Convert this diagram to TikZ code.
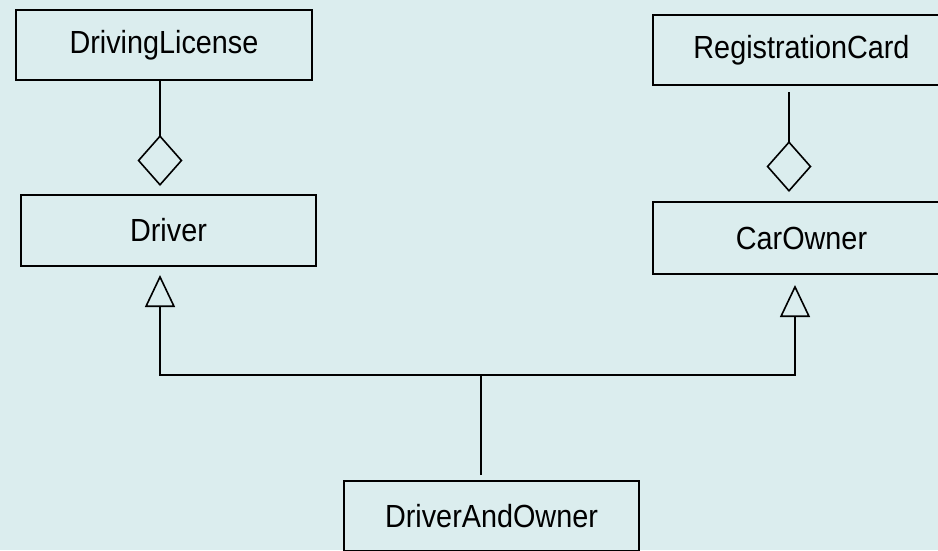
\documentclass[tikz,border=0pt]{standalone}
\usepackage{fontspec}
\setmainfont[FakeStretch=0.9]{Liberation Sans}
\usetikzlibrary{arrows.meta}
\definecolor{bgc}{RGB}{219,237,238}
\begin{document}
\begin{tikzpicture}[x=1pt,y=-1pt,
  cls/.style={draw=black,line width=1.6pt,rectangle,inner sep=0pt,
    minimum width=296pt,minimum height=70pt,
    font=\fontsize{32}{36}\selectfont},
  conn/.style={draw=black,line width=1.6pt},
  agg/.style={conn,-{Diamond[open,length=51pt,width=45pt,line width=1.6pt]}},
  gen/.style={conn,-{Triangle[open,length=32pt,width=30pt,line width=1.6pt]}}]
\useasboundingbox (0,0) rectangle (938,550);
\fill[bgc] (0,0) rectangle (938,550);
\clip (0,0) rectangle (938,550);

\node[cls] (dl) at (164,45) {DrivingLicense};
\node[cls,minimum width=295pt,minimum height=71pt] (driver) at (168.5,230.5) {Driver};
\node[cls,minimum width=297pt] (rc) at (801.5,50) {RegistrationCard};
\node[cls,minimum width=297pt,minimum height=72pt] (owner) at (801.5,238) {CarOwner};
\node[cls,minimum width=295pt] (dao) at (491.5,516) {DriverAndOwner};

% aggregations
\coordinate (a1s) at (160,80);
\coordinate (a1t) at (160,186);
\draw[agg] (a1s) -- (a1t);
\coordinate (a2s) at (789,92);
\coordinate (a2t) at (789,192);
\draw[agg] (a2s) -- (a2t);

% generalization
\coordinate (j) at (481,375);
\coordinate (jt) at (481,475);
\coordinate (g1) at (160,275);
\coordinate (g2) at (795,285);
\draw[conn] (jt) -- (j);
\draw[gen] (j) -| (g1);
\draw[gen] (j) -| (g2);
\end{tikzpicture}
\end{document}
